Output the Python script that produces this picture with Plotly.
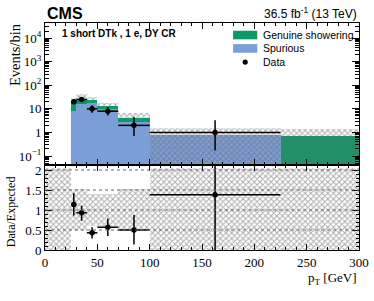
import plotly.graph_objects as go

# ---------------- data ----------------
bin_lo = [25, 30, 40, 50, 70, 100, 225]
bin_hi = [30, 40, 50, 70, 100, 225, 300]
spurious = [8.5, 15.5, 17.0, 10.0, 2.9, 0.77, 0.0]
genuine = [8.9, 11.5, 6.5, 3.8, 1.3, 0.0, 0.70]
unc_lo = [17.4, 27.0, 23.5, 13.8, 4.2, 0.0, 0.0]
unc_hi = [30.0, 41.0, 32.0, 17.0, 6.4, 1.48, 1.34]

data_x = [27.5, 35, 45, 60, 85, 162.5]
data_xerr = [2.5, 5, 5, 10, 15, 62.5]
data_y = [20, 25, 10, 8, 2, 1]
data_err_up = [5.5, 6.0, 4.3, 3.9, 2.6, 2.3]
data_err_dn = [4.4, 5.0, 3.1, 2.8, 1.3, 0.83]

ratio_bin_lo = [0, 25, 30, 40, 50, 70, 100, 225]
ratio_bin_hi = [25, 30, 40, 50, 70, 100, 225, 300]
ratio_unc_lo = [0, 0.47, 0.47, 0.6, 0.6, 0.47, 0, 0]
ratio_unc_hi = [2.05, 1.53, 1.53, 1.4, 1.4, 1.53, 2.05, 2.05]
ratio_y = [1.14, 0.93, 0.43, 0.57, 0.50, 1.38]
ratio_err_up = [0.28, 0.18, 0.14, 0.22, 0.375, 3.0]
ratio_err_dn = [0.28, 0.20, 0.14, 0.22, 0.36, 1.38]

ytick_vals = [0.1, 1, 10, 100, 1000, 10000]
ytick_text = ["10<sup>−1</sup>", "1", "10", "10<sup>2</sup>", "10<sup>3</sup>", "10<sup>4</sup>"]
rtick_vals = [0, 0.5, 1, 1.5, 2]
rtick_text = ["0", "0.5", "1", "1.5", "2"]
ratio_grid = [0.5, 1, 1.5, 2]

legend_labels = ["Genuine showering", "Spurious", "Data"]

# ---------------- styles ----------------
GREEN = "#0E9A68"
BLUE = "#7C9ED8"
SERIF = "Liberation Serif"
SANS = "Liberation Sans"
HATCH = dict(shape="x", fgcolor="#6a6a6a", fgopacity=0.55, size=4, solidity=0.45,
             fillmode="overlay")

centers = [(a + b) / 2 for a, b in zip(bin_lo, bin_hi)]
widths = [b - a for a, b in zip(bin_lo, bin_hi)]
r_centers = [(a + b) / 2 for a, b in zip(ratio_bin_lo, ratio_bin_hi)]
r_widths = [b - a for a, b in zip(ratio_bin_lo, ratio_bin_hi)]

fig = go.Figure()

fig.add_bar(x=centers, y=spurious, width=widths, name=legend_labels[1],
            marker=dict(color=BLUE, line=dict(width=0)), showlegend=False,
            xaxis="x", yaxis="y")
fig.add_bar(x=centers, y=genuine, base=spurious, width=widths, name=legend_labels[0],
            marker=dict(color=GREEN, line=dict(width=0)), showlegend=False,
            xaxis="x", yaxis="y")
fig.add_bar(x=centers, y=[h - l for h, l in zip(unc_hi, unc_lo)], base=unc_lo, width=widths,
            marker=dict(color="rgba(0,0,0,0)", line=dict(width=0), pattern=HATCH),
            showlegend=False, xaxis="x", yaxis="y")
fig.add_scatter(x=data_x, y=data_y, mode="markers", name=legend_labels[2], showlegend=False,
                marker=dict(color="black", size=5.5),
                error_y=dict(type="data", symmetric=False, array=data_err_up,
                             arrayminus=data_err_dn, width=0, thickness=1.5, color="black"),
                error_x=dict(type="data", array=data_xerr, width=0, thickness=1.5, color="black"),
                xaxis="x", yaxis="y")

# ratio panel
fig.add_bar(x=r_centers, y=[h - l for h, l in zip(ratio_unc_hi, ratio_unc_lo)], base=ratio_unc_lo,
            width=r_widths,
            marker=dict(color="rgba(0,0,0,0)", line=dict(width=0), pattern=HATCH),
            showlegend=False, xaxis="x2", yaxis="y2")
fig.add_scatter(x=data_x, y=ratio_y, mode="markers", showlegend=False,
                marker=dict(color="black", size=5.5),
                error_y=dict(type="data", symmetric=False, array=ratio_err_up,
                             arrayminus=ratio_err_dn, width=0, thickness=1.5, color="black"),
                error_x=dict(type="data", array=data_xerr, width=0, thickness=1.5, color="black"),
                xaxis="x2", yaxis="y2")

for g in ratio_grid:
    fig.add_shape(type="line", xref="x2 domain", yref="y2", x0=0, x1=1, y0=g, y1=g,
                  line=dict(color="#666666", width=1, dash="dot"), layer="above")

# ---------------- manual legend (ROOT style) ----------------
LEG_X = 0.599
LEG_W = 0.077
LEG_TXT_X = 0.688
leg_rows_y = [0.947, 0.888, 0.828]
leg_box_h = 0.038
fig.add_shape(type="rect", xref="paper", yref="paper", x0=LEG_X, x1=LEG_X + LEG_W,
              y0=leg_rows_y[0] - leg_box_h / 2, y1=leg_rows_y[0] + leg_box_h / 2,
              fillcolor=GREEN, line=dict(width=0))
fig.add_shape(type="rect", xref="paper", yref="paper", x0=LEG_X, x1=LEG_X + LEG_W,
              y0=leg_rows_y[1] - leg_box_h / 2, y1=leg_rows_y[1] + leg_box_h / 2,
              fillcolor=BLUE, line=dict(width=0))
fig.add_shape(type="circle", xref="paper", yref="paper", xsizemode="pixel", ysizemode="pixel",
              xanchor=LEG_X + LEG_W / 2, yanchor=leg_rows_y[2], x0=-2.6, x1=2.6, y0=-2.6, y1=2.6,
              fillcolor="black", line=dict(width=0))
for lab, yy in zip(legend_labels, leg_rows_y):
    fig.add_annotation(text=lab, xref="paper", yref="paper", x=LEG_TXT_X, y=yy,
                       xanchor="left", yanchor="middle", showarrow=False,
                       font=dict(family=SANS, size=10.5, color="black"))

DOM_SPLIT = 0.3744
axis_common = dict(showline=True, linecolor="black", linewidth=1, mirror="allticks",
                   ticks="inside", tickcolor="black", showgrid=False, zeroline=False,
                   automargin=False,
                   tickfont=dict(family=SERIF, size=13, color="black"))

fig.update_layout(
    width=374, height=301,
    margin=dict(l=45, r=15, t=23, b=51, autoexpand=False),
    paper_bgcolor="white", plot_bgcolor="white",
    barmode="overlay", bargap=0, showlegend=False,
    xaxis=dict(domain=[0, 1], range=[0, 300], anchor="y", showticklabels=False,
               dtick=50, tick0=0, ticklen=6,
               minor=dict(ticks="inside", ticklen=3, dtick=10, tickcolor="black"),
               **axis_common),
    yaxis=dict(domain=[DOM_SPLIT, 1], type="log", range=[-1.38, 4.64], anchor="x",
               tickvals=ytick_vals, ticktext=ytick_text, ticklen=7,
               minor=dict(ticks="inside", ticklen=4, tickcolor="black", dtick="D1"),
               **axis_common),
    xaxis2=dict(domain=[0, 1], range=[0, 300], anchor="y2", matches="x",
                dtick=50, tick0=0, ticklen=6,
                minor=dict(ticks="inside", ticklen=3, dtick=10, tickcolor="black"),
                **axis_common),
    yaxis2=dict(domain=[0, DOM_SPLIT], range=[0, 2.125], anchor="x2",
                tickvals=rtick_vals, ticktext=rtick_text, ticklen=7,
                minor=dict(ticks="inside", ticklen=3, dtick=0.1, tickcolor="black"),
                **axis_common),
)

fig.add_annotation(text="<b>CMS</b>", xref="paper", yref="paper", x=0, y=1.044,
                   xanchor="left", yanchor="middle", showarrow=False,
                   font=dict(family=SANS, size=16, color="black"))
fig.add_annotation(text="36.5 fb<sup>-1</sup> (13 TeV)", xref="paper", yref="paper", x=1, y=1.042,
                   xanchor="right", yanchor="middle", showarrow=False,
                   font=dict(family=SANS, size=12, color="black"))
fig.add_annotation(text="<b>1 short DTk , 1 e, DY CR</b>", xref="paper", yref="paper",
                   x=0.048, y=0.952, xanchor="left", yanchor="middle", showarrow=False,
                   font=dict(family=SANS, size=10, color="black"))
fig.add_annotation(text="Events/bin", xref="paper", yref="paper", x=-0.0955, y=0.859,
                   xanchor="center", yanchor="middle", textangle=-90, showarrow=False,
                   font=dict(family=SERIF, size=14.5, color="black"))
fig.add_annotation(text="Data/Expected", xref="paper", yref="paper", x=-0.108, y=0.167,
                   xanchor="center", yanchor="middle", textangle=-90, showarrow=False,
                   font=dict(family=SERIF, size=12, color="black"))
fig.add_annotation(text="p<sub>T</sub> [GeV]", xref="paper", yref="paper", x=1, y=-0.124,
                   xanchor="right", yanchor="middle", showarrow=False,
                   font=dict(family=SERIF, size=13, color="black"))

# remove the browser's default 8 px body margin so the figure fills the window
fig.write_html("out.html", config={"displayModeBar": False},
               post_script="document.body.style.margin='0';")
